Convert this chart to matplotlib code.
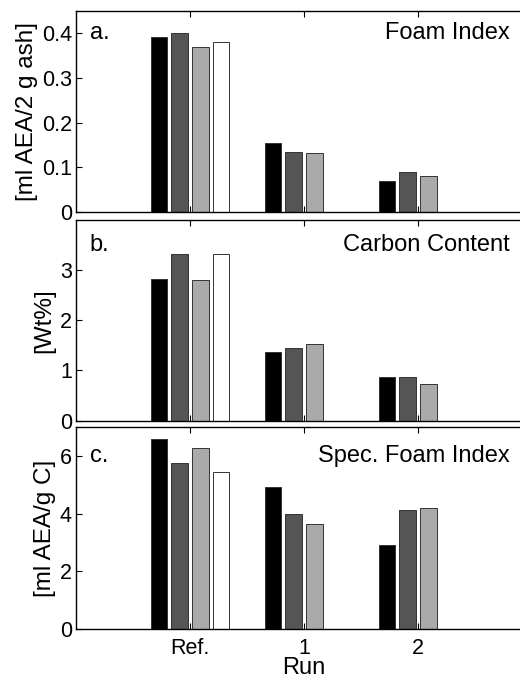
import matplotlib
matplotlib.use("Agg")
import matplotlib.pyplot as plt
import numpy as np

plt.rcParams['font.family'] = ['Liberation Sans', 'DejaVu Sans']
plt.rcParams['font.size'] = 17

runs = ["Ref.", "1", "2"]
series_colors = ["#000000", "#555555", "#aaaaaa", "#ffffff"]

# Four series per run; the fourth series only exists for the reference run
foam_index = [
    [0.392, 0.154, 0.070],
    [0.400, 0.134, 0.090],
    [0.370, 0.131, 0.080],
    [0.381, 0.0, 0.0],
]
carbon_content = [
    [2.82, 1.37, 0.87],
    [3.31, 1.44, 0.86],
    [2.80, 1.52, 0.73],
    [3.32, 0.0, 0.0],
]
spec_foam_index = [
    [6.61, 4.93, 2.92],
    [5.78, 3.98, 4.14],
    [6.29, 3.65, 4.19],
    [5.45, 0.0, 0.0],
]

panels = [
    (foam_index, "a.", "Foam Index", "[ml AEA/2 g ash]", (0, 0.45), [0, 0.1, 0.2, 0.3, 0.4], 0.4),
    (carbon_content, "b.", "Carbon Content", "[Wt%]", (0, 4.0), [0, 1, 2, 3], 3.5),
    (spec_foam_index, "c.", "Spec. Foam Index", "[ml AEA/g C]", (0, 7.0), [0, 2, 4, 6], 6.0),
]

fig = plt.figure(figsize=(5.2, 6.82), dpi=100)
bottoms = [0.6891, 0.3831, 0.0782]
height = 0.2950
left, width = 0.1462, 0.877

x = np.arange(1, len(runs) + 1)
n = 4
group_w = min(0.8, n / (n + 1.5))
step = group_w / n
bar_w = 0.8 * step
offsets = (np.arange(n) - (n - 1) / 2) * step

for (data, tag, title, ylabel, ylim, yticks, ty), b in zip(panels, bottoms):
    ax = fig.add_axes([left, b, width, height])
    for i in range(n):
        ax.bar(x + offsets[i], data[i], width=bar_w, color=series_colors[i],
               edgecolor="#333333", linewidth=0.7, zorder=2)
    ax.set_xlim(0, 4)
    ax.set_ylim(*ylim)
    ax.set_yticks(yticks)
    ax.set_yticklabels([f"{v:g}" for v in yticks])
    ax.set_xticks(x)
    ax.tick_params(direction="in", top=True, right=True, length=4, width=0.8,
                   pad=3, labelsize=15.5)
    ax.tick_params(axis="x", pad=6.5)
    for s in ax.spines.values():
        s.set_linewidth(1.0)
    ax.text(0.12, ty, tag, ha="left", va="center")
    ax.text(3.8, ty, title, ha="right", va="center")
    ax.set_ylabel(ylabel, labelpad=3, fontsize=17.5)
    if tag == "c.":
        ax.set_xticklabels(runs)
        ax.set_xlabel("Run", labelpad=-1.5)
    else:
        ax.set_xticklabels([])

fig.savefig("out.png", dpi=100)
